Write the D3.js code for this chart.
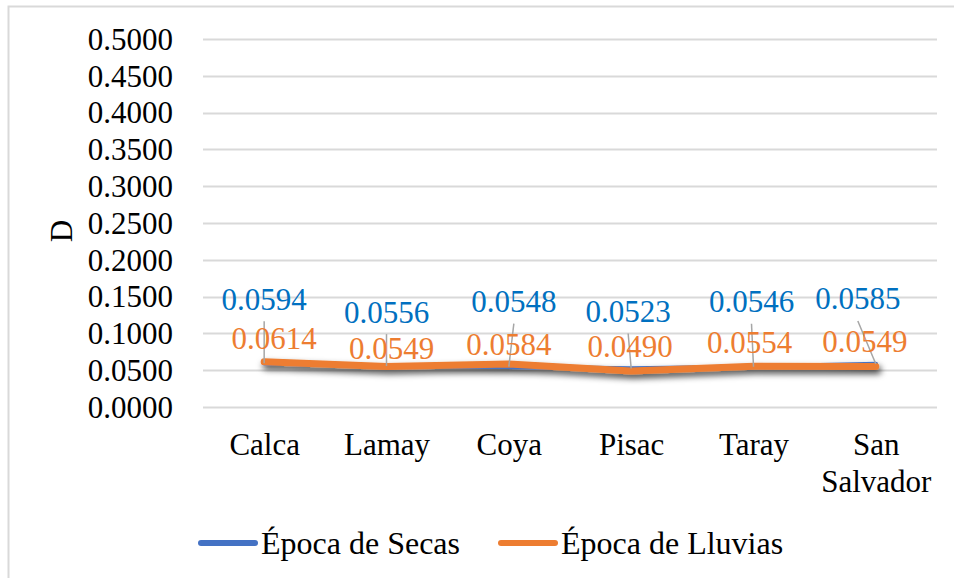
<!DOCTYPE html>
<html>
<head>
<meta charset="utf-8">
<script src="https://cdn.jsdelivr.net/npm/d3@7"></script>
<style>
  html, body { margin: 0; padding: 0; background: #fff; }
  svg { display: block; }
</style>
</head>
<body>
<svg id="chart" width="954" height="578"></svg>
<script>
// Simpson dominance index D per site and season
const sites = ["Calca", "Lamay", "Coya", "Pisac", "Taray", "San Salvador"];
const secas = [0.0594, 0.0556, 0.0548, 0.0523, 0.0546, 0.0585];
const lluvias = [0.0614, 0.0549, 0.0584, 0.0490, 0.0554, 0.0549];
const seriesNames = ["Época de Secas", "Época de Lluvias"];
const yTicks = [0, 0.05, 0.1, 0.15, 0.2, 0.25, 0.3, 0.35, 0.4, 0.45, 0.5];

// hand-placed data label offsets (px, label centre relative to point)
const secasLabelOffset = [[0, -64], [0, -54], [5, -65], [-3, -57], [-2, -65], [-18, -65]];
const lluviasLabelOffset = [[10, -23], [5, -18], [0, -20], [-1, -24], [-4, -24], [-11, -25]];

const SERIF = "Liberation Serif";
const svg = d3.select("#chart").attr("font-family", SERIF);
const W = 954, H = 578;
const plot = { left: 203, right: 937, top: 39, bottom: 407 };
const FONT = 31;
const colors = { secas: "#4472C4", lluvias: "#ED7D31", secasLabel: "#0070C0", lluviasLabel: "#ED7D31" };

// chart frame
svg.append("rect")
  .attr("x", 8.5).attr("y", 6.5)
  .attr("width", W + 10).attr("height", H + 10)
  .attr("fill", "#fff").attr("stroke", "#d9d9d9").attr("stroke-width", 2);

const defs = svg.append("defs");
const shadow = defs.append("filter").attr("id", "lineShadow")
  .attr("x", "-10%").attr("y", "-200%").attr("width", "120%").attr("height", "500%");
shadow.append("feDropShadow")
  .attr("dx", 2).attr("dy", 4).attr("stdDeviation", 3)
  .attr("flood-color", "#000").attr("flood-opacity", 0.7);

const x = d3.scalePoint().domain(sites).range([plot.left, plot.right]).padding(0.5);
const y = d3.scaleLinear().domain([0, 0.5]).range([plot.bottom, plot.top]);

// gridlines
svg.append("g")
  .selectAll("line").data(yTicks).join("line")
  .attr("x1", plot.left).attr("x2", plot.right)
  .attr("y1", d => Math.round(y(d)) + 0.5).attr("y2", d => Math.round(y(d)) + 0.5)
  .attr("stroke", "#d9d9d9").attr("stroke-width", 2);

// y axis labels
const yAxis = d3.axisLeft(y).tickValues(yTicks).tickFormat(d3.format(".4f")).tickSize(0).tickPadding(0);
const yG = svg.append("g").attr("transform", `translate(${plot.left - 30},0)`).call(yAxis)
  .attr("font-family", SERIF);
yG.select(".domain").remove();
yG.selectAll("text").attr("font-size", FONT).attr("fill", "#000")
  .attr("font-family", SERIF).attr("dy", "0.33em");

// y axis title
svg.append("text")
  .attr("transform", `translate(72,${(plot.top + plot.bottom) / 2 + 8}) rotate(-90)`)
  .attr("text-anchor", "middle").attr("font-size", FONT).attr("fill", "#000")
  .attr("font-family", SERIF)
  .text("D");

// x axis category labels (wrapped)
const xAxis = d3.axisBottom(x).tickSize(0).tickPadding(0);
const xG = svg.append("g").attr("transform", `translate(0,${plot.bottom})`).call(xAxis)
  .attr("font-family", SERIF);
xG.select(".domain").remove();
xG.selectAll("text").attr("font-size", FONT).attr("fill", "#000")
  .attr("font-family", SERIF)
  .each(function (d) {
    const t = d3.select(this);
    const words = d.split(" ");
    t.text(null).attr("y", 48).attr("dy", null);
    words.forEach((w, i) => {
      t.append("tspan").attr("x", 0).attr("dy", i === 0 ? 0 : 37).text(w);
    });
  });

// series lines
const line = d3.line().x((d, i) => x(sites[i])).y(d => y(d));
const lines = svg.append("g").attr("filter", "url(#lineShadow)");
lines.append("path").datum(secas).attr("d", line)
  .attr("fill", "none").attr("stroke", colors.secas).attr("stroke-width", 4.5)
  .attr("stroke-linejoin", "round").attr("stroke-linecap", "round");
lines.append("path").datum(lluvias).attr("d", line)
  .attr("fill", "none").attr("stroke", colors.lluvias).attr("stroke-width", 7)
  .attr("stroke-linejoin", "round").attr("stroke-linecap", "round");

// leader lines for the dry-season labels
const fmt = d3.format(".4f");
svg.append("g").selectAll("line").data(secas).join("line")
  .attr("x1", (d, i) => x(sites[i]) + secasLabelOffset[i][0])
  .attr("y1", (d, i) => y(d) + secasLabelOffset[i][1] + 22)
  .attr("x2", (d, i) => x(sites[i]))
  .attr("y2", d => y(d))
  .attr("stroke", "#a6a6a6").attr("stroke-width", 1.5);

// data labels
function labels(values, offs, color) {
  svg.append("g").selectAll("text").data(values).join("text")
    .attr("x", (d, i) => x(sites[i]) + offs[i][0])
    .attr("y", (d, i) => y(d) + offs[i][1] + 10.5)
    .attr("text-anchor", "middle").attr("font-size", FONT).attr("fill", color)
    .attr("font-family", SERIF)
    .text(d => fmt(d));
}
labels(secas, secasLabelOffset, colors.secasLabel);
labels(lluvias, lluviasLabelOffset, colors.lluviasLabel);

// legend
const legend = svg.append("g");
const legendItems = [
  { name: seriesNames[0], color: colors.secas, x: 201 },
  { name: seriesNames[1], color: colors.lluvias, x: 501 }
];
legendItems.forEach(it => {
  legend.append("line")
    .attr("x1", it.x).attr("x2", it.x + 54)
    .attr("y1", 543).attr("y2", 543)
    .attr("stroke", it.color).attr("stroke-width", 6).attr("stroke-linecap", "round");
  legend.append("text")
    .attr("x", it.x + 60).attr("y", 554)
    .attr("font-size", 32).attr("fill", "#000")
    .attr("font-family", SERIF)
    .text(it.name);
});
</script>
</body>
</html>
